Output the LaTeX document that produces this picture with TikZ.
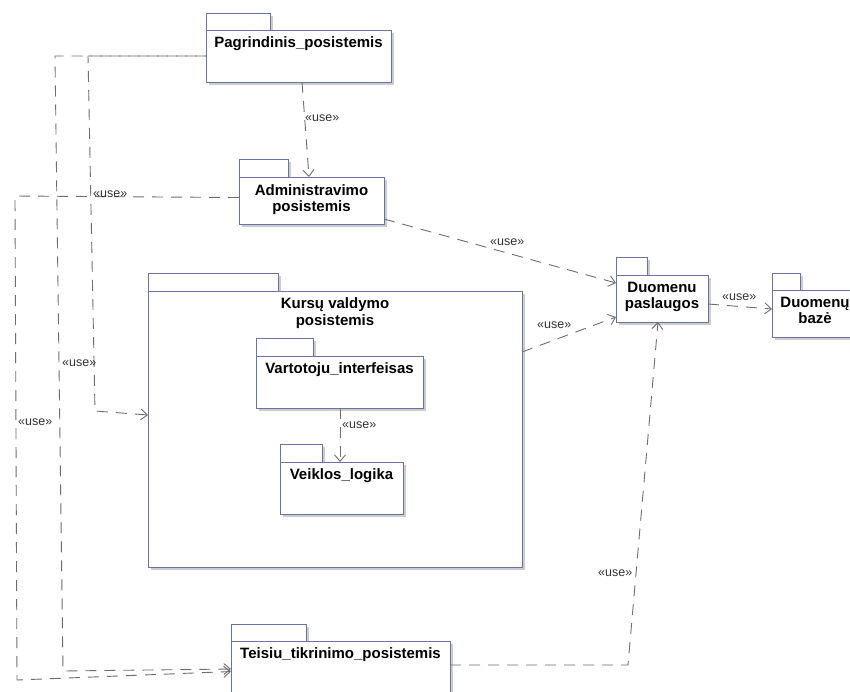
\documentclass[tikz,border=0pt]{standalone}
\usepackage{fontspec}
\setmainfont{Liberation Sans}
\usetikzlibrary{arrows.meta,shadows}
\definecolor{pkgline}{RGB}{105,115,165}
\definecolor{depline}{RGB}{110,110,110}
\tikzset{
  pkgshape/.style={draw=pkgline, line width=1pt, fill=white, inner sep=0pt, outer sep=0pt,
    anchor=north west,
    drop shadow={shadow xshift=2.5pt, shadow yshift=-2.5pt, fill=black!20, opacity=1}},
  pkgtitle/.style={font=\bfseries\fontsize{15}{17}\selectfont, inner sep=0pt, anchor=base},
  uselabel/.style={font=\fontsize{12.5}{14}\selectfont, text=black!80, inner sep=0pt, anchor=base west},
  dep/.style={draw=depline, line width=0.9pt, dash pattern=on 11pt off 8pt,
    -{Straight Barb[length=6.5pt,width=11pt]}},
}
\begin{document}
\begin{tikzpicture}[x=1pt,y=-1pt]
\useasboundingbox (0,0) rectangle (850,691);
\clip (0,0) rectangle (850,691);
\fill[white] (0,0) rectangle (850,691);

% Pagrindinis_posistemis
\node[pkgshape, minimum width=64pt, minimum height=17pt] (pagtab) at (206,13) {};
\node[pkgshape, minimum width=185pt, minimum height=52pt] (pag) at (pagtab.south west) {};
\node[pkgtitle] (pagt) at ([yshift=-17pt]pag.north) {Pagrindinis\_posistemis};

% Administravimo posistemis
\node[pkgshape, minimum width=49pt, minimum height=18pt] (admtab) at (239,159) {};
\node[pkgshape, minimum width=145pt, minimum height=47pt] (adm) at (admtab.south west) {};
\node[pkgtitle] (admt1) at ([yshift=-18pt]adm.north) {Administravimo};
\node[pkgtitle] (admt2) at ([yshift=-34pt]adm.north) {posistemis};

% Duomenu paslaugos
\node[pkgshape, minimum width=31pt, minimum height=18pt] (duptab) at (616,257) {};
\node[pkgshape, minimum width=92pt, minimum height=47pt] (dup) at (duptab.south west) {};
\node[pkgtitle] (dupt1) at ([yshift=-17pt]dup.north) {Duomenu};
\node[pkgtitle] (dupt2) at ([yshift=-33pt]dup.north) {paslaugos};

% Duomenu baze
\node[pkgshape, minimum width=28pt, minimum height=17pt] (dbztab) at (772,273) {};
\node[pkgshape, minimum width=86pt, minimum height=47pt] (dbz) at (dbztab.south west) {};
\node[pkgtitle] (dbzt1) at ([yshift=-17pt]dbz.north) {Duomenų};
\node[pkgtitle] (dbzt2) at ([yshift=-33pt]dbz.north) {bazė};

% Kursu valdymo posistemis
\node[pkgshape, minimum width=130pt, minimum height=18pt] (kurtab) at (148,273) {};
\node[pkgshape, minimum width=374pt, minimum height=276pt] (kur) at (kurtab.south west) {};
\node[pkgtitle] (kurt1) at ([yshift=-17pt]kur.north) {Kursų valdymo};
\node[pkgtitle] (kurt2) at ([yshift=-34pt]kur.north) {posistemis};

% Vartotoju_interfeisas
\node[pkgshape, minimum width=57pt, minimum height=18pt] (vartab) at (256,338) {};
\node[pkgshape, minimum width=167pt, minimum height=52pt] (var) at (vartab.south west) {};
\node[pkgtitle] (vart) at ([yshift=-17pt]var.north) {Vartotoju\_interfeisas};

% Veiklos_logika
\node[pkgshape, minimum width=42pt, minimum height=18pt] (veitab) at (280,444) {};
\node[pkgshape, minimum width=123pt, minimum height=52pt] (vei) at (veitab.south west) {};
\node[pkgtitle] (veit) at ([yshift=-17pt]vei.north) {Veiklos\_logika};

% Teisiu_tikrinimo_posistemis
\node[pkgshape, minimum width=75pt, minimum height=17pt] (teitab) at (231,624) {};
\node[pkgshape, minimum width=219pt, minimum height=59pt] (tei) at (teitab.south west) {};
\node[pkgtitle] (teit) at ([yshift=-17pt]tei.north) {Teisiu\_tikrinimo\_posistemis};

% dependencies
\draw[dep] ([xshift=3.5pt]pag.south) -- ([xshift=-2.5pt]adm.north);
\draw[dep] ([yshift=-18.5pt]adm.east) -- ([yshift=15.5pt]dup.west);
\draw[dep] ([yshift=77pt]kur.east) -- ([yshift=-18.5pt]dup.west);
\draw[dep] ([yshift=-5.5pt]dup.east) -- ([yshift=4.5pt]dbz.west);
\draw[dep] ([yshift=5.5pt]tei.east) -- (628,665) -- ([xshift=-4pt]dup.south);
\draw[dep] ([xshift=0.5pt]var.south) -- ([xshift=-1.5pt]vei.north);
\draw[dep] (pag.west) -- (88,56) -- (95,411) -- ([yshift=14pt]kur.west);
\draw[dep, dash phase=9.5pt] (pag.west) -- (55,56) -- (63,671) -- ([yshift=1.5pt]tei.west);
\draw[dep] ([yshift=3pt]adm.west) -- (15,196) -- (17,680) -- ([yshift=-1pt]tei.west);

% labels
\node[uselabel] (u1) at (305,121) {«use»};
\node[uselabel] (u2) at (490,245) {«use»};
\node[uselabel] (u3) at (537,328) {«use»};
\node[uselabel] (u4) at (722,300) {«use»};
\node[uselabel] (u5) at (342,428) {«use»};
\node[uselabel] (u6) at (598,576) {«use»};
\node[uselabel] (u7) at (93,197) {«use»};
\node[uselabel] (u8) at (18,425) {«use»};
\node[uselabel] (u9) at (62,366) {«use»};
\end{tikzpicture}
\end{document}
